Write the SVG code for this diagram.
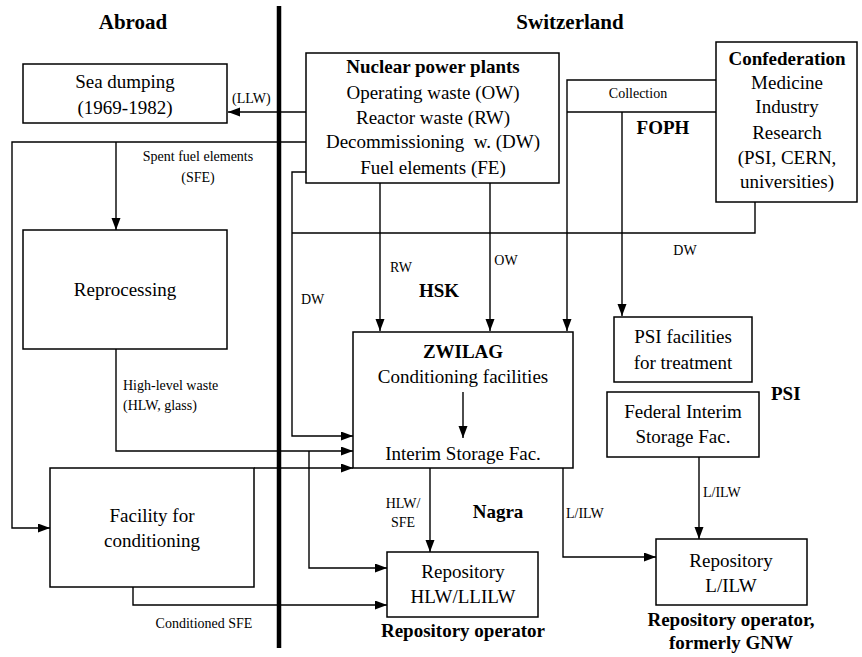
<svg xmlns="http://www.w3.org/2000/svg" width="862" height="657" viewBox="0 0 862 657">
<style>
.box{fill:#fff;stroke:#000;stroke-width:1.5}
text{font-family:'Liberation Serif','Times New Roman',serif;fill:#000}
.t{font-size:19px;text-anchor:middle}
.b{font-weight:bold}
.s{font-size:14px}
.c{text-anchor:middle}
.h{font-size:21px;font-weight:bold;text-anchor:middle}
.ln{fill:none;stroke:#000;stroke-width:1.4}
.ar{fill:none;stroke:#000;stroke-width:1.4;marker-end:url(#ah)}
</style>
<defs>
<marker id="ah" markerUnits="userSpaceOnUse" markerWidth="13" markerHeight="10" refX="12" refY="4.5" orient="auto">
<path d="M0,0 L12,4.5 L0,9 z" fill="#000"/>
</marker>
</defs>
<rect width="862" height="657" fill="#fff"/>
<text class="h" x="133" y="29">Abroad</text>
<text class="h" x="570" y="29">Switzerland</text>
<line x1="279" y1="6" x2="279" y2="648" stroke="#000" stroke-width="4.5"/>
<g id="connectors">
<path class="ar" d="M306,112 H228"/>
<path class="ar" d="M306,142 H12 V528 H50"/>
<path class="ar" d="M116,142 V230"/>
<path class="ar" d="M116,349 V451 H353"/>
<path class="ar" d="M309,451 V568 H387"/>
<path class="ar" d="M254,468 H353"/>
<path class="ar" d="M133,587 V605 H387"/>
<path class="ar" d="M306,172 H292 V436 H353"/>
<path class="ln" d="M755,202 V233 H292"/>
<path class="ar" d="M380,183 V331"/>
<path class="ar" d="M490,183 V331"/>
<path class="ar" d="M747,80 H567 V331"/>
<path class="ln" d="M747,112 H567"/>
<path class="ar" d="M622,112 V316"/>
<path class="ar" d="M430,468 V552"/>
<path class="ar" d="M563,468 V557 H656"/>
<path class="ar" d="M699,457 V539"/>
<path class="ar" d="M463,392 V438"/>
<text class="s" x="232" y="103">(LLW)</text>
<text class="s c" x="198" y="161">Spent fuel elements</text>
<text class="s c" x="198" y="182">(SFE)</text>
<text class="s" x="123" y="390">High-level waste</text>
<text class="s" x="123" y="410">(HLW, glass)</text>
<text class="s c" x="204" y="628">Conditioned SFE</text>
<text class="s" x="301" y="304">DW</text>
<text class="s c" x="401" y="272">RW</text>
<text class="s c" x="506" y="265">OW</text>
<text class="s c" x="638" y="98">Collection</text>
<text class="s c" x="685" y="255">DW</text>
<text class="s c" x="403" y="508">HLW/</text>
<text class="s c" x="403" y="527">SFE</text>
<text class="s" x="566" y="518">L/ILW</text>
<text class="s" x="703" y="497">L/ILW</text>
</g>
<g id="labels">
<text class="t b" x="439" y="297">HSK</text>
<text class="t b" x="663" y="134">FOPH</text>
<text class="t b" x="498" y="518">Nagra</text>
<text class="t b" x="771" y="400" style="text-anchor:start">PSI</text>
</g>
<g id="sea-dumping">
<rect class="box" x="23" y="64" width="204" height="59"/>
<text class="t" x="125" y="88">Sea dumping</text>
<text class="t" x="125" y="114">(1969-1982)</text>
</g>
<g id="reprocessing">
<rect class="box" x="23" y="230" width="204" height="119"/>
<text class="t" x="125" y="296">Reprocessing</text>
</g>
<g id="facility-conditioning">
<rect class="box" x="50" y="468" width="204" height="119"/>
<text class="t" x="152" y="522">Facility for</text>
<text class="t" x="152" y="547">conditioning</text>
</g>
<g id="npp">
<rect class="box" x="306" y="53" width="253" height="130"/>
<text class="t b" x="433" y="73">Nuclear power plants</text>
<text class="t" x="433" y="99">Operating waste (OW)</text>
<text class="t" x="433" y="124">Reactor waste (RW)</text>
<text class="t" x="433" y="148" xml:space="preserve">Decommissioning  w. (DW)</text>
<text class="t" x="433" y="174">Fuel elements (FE)</text>
</g>
<g id="confederation">
<rect class="box" x="716" y="42" width="141" height="160"/>
<text class="t b" x="787" y="65">Confederation</text>
<text class="t" x="787" y="89">Medicine</text>
<text class="t" x="787" y="113">Industry</text>
<text class="t" x="787" y="139">Research</text>
<text class="t" x="787" y="164">(PSI, CERN,</text>
<text class="t" x="787" y="188">universities)</text>
</g>
<g id="zwilag">
<rect class="box" x="353" y="332" width="220" height="136" style="fill:none"/>
<text class="t b" x="463" y="358">ZWILAG</text>
<text class="t" x="463" y="383">Conditioning facilities</text>
<text class="t" x="463" y="460">Interim Storage Fac.</text>
</g>
<g id="psi-facilities">
<rect class="box" x="614" y="317" width="138" height="65"/>
<text class="t" x="683" y="343">PSI facilities</text>
<text class="t" x="683" y="369">for treatment</text>
</g>
<g id="federal-interim">
<rect class="box" x="607" y="392" width="152" height="65"/>
<text class="t" x="683" y="418">Federal Interim</text>
<text class="t" x="683" y="443">Storage Fac.</text>
</g>
<g id="repo-hlw">
<rect class="box" x="387" y="552" width="151" height="65"/>
<text class="t" x="463" y="578">Repository</text>
<text class="t" x="463" y="603">HLW/LLILW</text>
<text class="t b" x="463" y="637">Repository operator</text>
</g>
<g id="repo-lilw">
<rect class="box" x="656" y="539" width="151" height="66"/>
<text class="t" x="731" y="567">Repository</text>
<text class="t" x="731" y="592">L/ILW</text>
<text class="t b" x="731" y="626">Repository operator,</text>
<text class="t b" x="731" y="649">formerly GNW</text>
</g>
</svg>
